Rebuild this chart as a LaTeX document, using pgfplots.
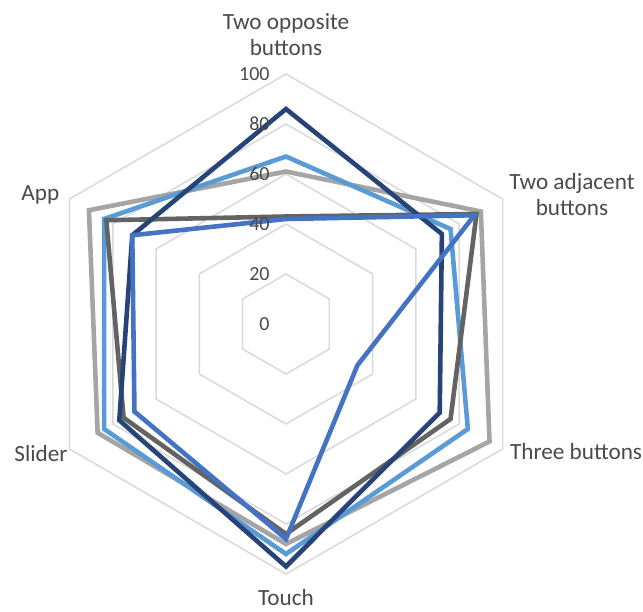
\documentclass[border=0pt]{standalone}
\usepackage{pgfplots}
\pgfplotsset{compat=1.18}
\usepackage{pgfplotstable}
\usepgfplotslibrary{polar}
\usepackage{fontspec}
\setmainfont{Carlito}
\definecolor{lgray}{HTML}{A5A5A5}
\definecolor{lblue}{HTML}{5B9BD5}
\definecolor{dgray}{HTML}{636363}
\definecolor{navy}{HTML}{264478}
\definecolor{mblue}{HTML}{4472C4}
\definecolor{gridc}{HTML}{D9D9D9}
\definecolor{txt}{HTML}{4A4A4A}
% angle: Two opposite (90), Two adjacent (30), Three buttons (-30), Touch (-90), Slider (-150), App (-210)
\pgfplotstableread{
angle lgray lblue dgray navy mblue
90    61    67    43    86    42
30    90    76    88    72    87
-30   94    84    76    71    33
-90   88    92    84    97    86
-150  87    84    75    77    70
-210  91    84    83    71    71
-270  61    67    43    86    42
-330  90    76    88    72    87
}\radardata
\pgfplotstableread{
angle g20 g40 g60 g80 g100
90    20  40  60  80  100
30    20  40  60  80  100
-30   20  40  60  80  100
-90   20  40  60  80  100
-150  20  40  60  80  100
-210  20  40  60  80  100
-270  20  40  60  80  100
-330  20  40  60  80  100
}\gridata
\begin{document}
\begin{tikzpicture}
\begin{polaraxis}[
  width=250pt, height=250pt, scale only axis,
  ymin=0, ymax=100,
  hide axis, clip=false,
  every axis plot/.append style={no markers, line join=miter},
]
\pgfplotsinvokeforeach{g20,g40,g60,g80,g100}{
  \addplot[gridc, line width=0.75pt] table[x=angle, y=#1] {\gridata};
}
\addplot[lgray, line width=2.3pt] table[x=angle, y=lgray] {\radardata};
\addplot[lblue, line width=2.3pt] table[x=angle, y=lblue] {\radardata};
\addplot[dgray, line width=2.3pt] table[x=angle, y=dgray] {\radardata};
\addplot[navy, line width=2.3pt] table[x=angle, y=navy] {\radardata};
\addplot[mblue, line width=2.3pt] table[x=angle, y=mblue] {\radardata};
\coordinate (c) at (axis cs:0,0);
\pgfplotsinvokeforeach{0,20,40,60,80,100}{
  \node[anchor=east, text=txt, font=\fontsize{10}{11}\selectfont, xshift=-8pt, inner sep=0pt] at (axis cs:90,#1) {#1};
}
\tikzset{lab/.style={text=txt, font=\fontsize{11.6}{13}\selectfont, align=center, inner sep=0pt}}
\node[lab] at (axis cs:90,115.6) {Two opposite\\buttons};
\node[lab] at (axis cs:24.3,125.5) {Two adjacent\\buttons};
\node[lab] at (axis cs:-23.8,126.8) {Three buttons};
\node[lab] at (axis cs:-90,109.6) {Touch};
\node[lab] at (axis cs:207.8,110.8) {Slider};
\node[lab] at (axis cs:152.3,111) {App};
\end{polaraxis}
\pgfresetboundingbox
\path[use as bounding box] ([shift={(-143pt,-143.5pt)}]c) rectangle ([shift={(178.5pt,162pt)}]c);
\end{tikzpicture}
\end{document}
